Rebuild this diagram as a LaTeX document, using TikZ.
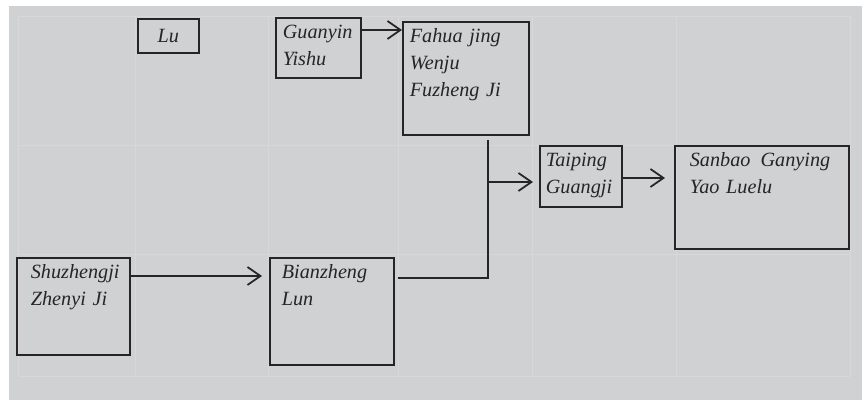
\documentclass[tikz,border=0pt]{standalone}
\usepackage{fontspec}
\setmainfont{Liberation Serif}
\usetikzlibrary{arrows.meta}
\definecolor{panel}{RGB}{208,209,211}
\definecolor{rule}{RGB}{216,216,217}
\definecolor{ink}{RGB}{38,36,38}

\begin{document}
\begin{tikzpicture}[>={Straight Barb[length=0.26cm,width=0.36cm]},
    book/.style={draw=ink, line width=1pt, anchor=north west, inner xsep=0pt,
        inner ysep=0.14cm, align=left, text height=7.6pt, text=ink,
        font=\fontsize{11.5}{15.5}\selectfont\itshape},
    link/.style={->, ink, line width=1pt}]
    \useasboundingbox (0,0) rectangle (17.28,8);
    \fill[panel] (0.18,0) rectangle (17.24,7.88);

    \foreach \x in {0.36,2.70,5.36,7.96,10.64,13.52,17.00}
        \draw[rule, line width=0.5pt] (\x,0.48) -- (\x,7.68);
    \foreach \y in {0.48,2.92,5.10,7.68}
        \draw[rule, line width=0.5pt] (0.36,\y) -- (17.00,\y);

    \node[book, minimum width=1.22cm, minimum height=0.68cm, align=center] (lu) at (2.74,7.64) {Lu};
    \node[book, minimum width=1.70cm, text width=1.42cm, text depth=0.652cm] (guanyin) at (5.50,7.66) {Guanyin\\Yishu};
    \node[book, minimum width=2.52cm, text width=2.24cm, text depth=1.712cm] (fahua) at (8.04,7.58) {Fahua jing\\Wenju\\Fuzheng Ji};
    \node[book, minimum width=1.64cm, text width=1.40cm, text depth=0.672cm] (taiping) at (10.78,5.10) {Taiping\\Guangji};
    \node[book, minimum width=3.48cm, text width=2.88cm, text depth=1.512cm] (sanbao) at (13.48,5.10) {Sanbao\enspace Ganying\\Yao Luelu};
    \node[book, minimum width=2.26cm, text width=1.70cm, text depth=1.392cm] (shu) at (0.32,2.86) {Shuzhengji\\Zhenyi Ji};
    \node[book, minimum width=2.48cm, text width=2.00cm, text depth=1.592cm] (bian) at (5.38,2.86) {Bianzheng\\Lun};

    \coordinate (split) at ([xshift=0.44cm]fahua.south);

    \draw[link] ([yshift=-0.26cm]guanyin.north east) -- ([yshift=-0.26cm]guanyin.north east -| fahua.west);
    \draw[link, shorten >=0.14cm] ([yshift=-0.38cm]shu.north east) -- ([yshift=-0.38cm]shu.north east -| bian.west);
    \draw[ink, line width=1pt, shorten <=0.06cm, shorten >=0.08cm] ([yshift=-0.42cm]bian.north east) -| (split);
    \draw[link, shorten >=0.12cm] ([yshift=-0.74cm]taiping.north west -| split) -- ([yshift=-0.74cm]taiping.north west);
    \draw[link, shorten >=0.18cm] ([yshift=-0.66cm]taiping.north east) -- ([yshift=-0.66cm]taiping.north east -| sanbao.west);
\end{tikzpicture}
\end{document}
